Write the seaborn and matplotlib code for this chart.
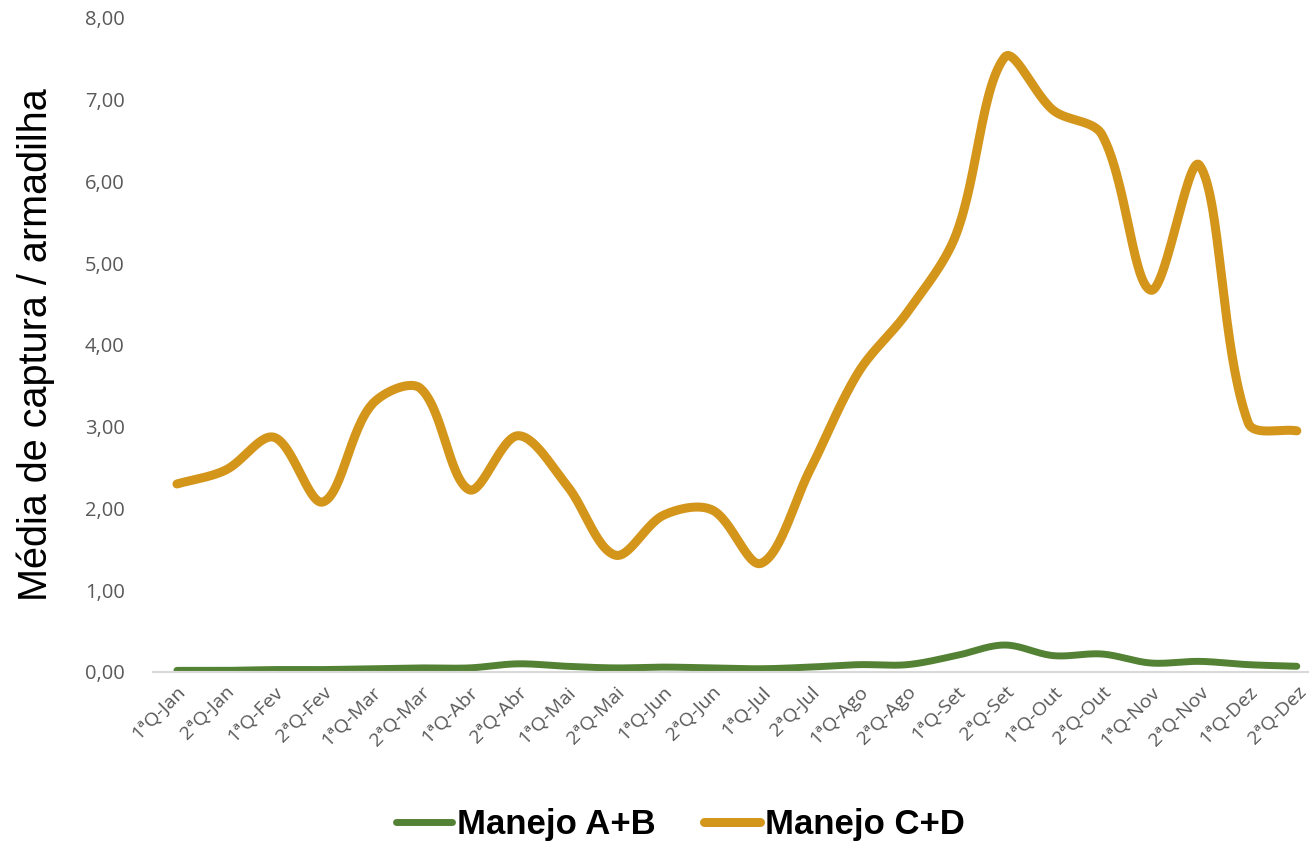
import matplotlib
matplotlib.use('Agg')
import matplotlib.pyplot as plt
import matplotlib.ticker as mticker
import numpy as np
import pandas as pd
import seaborn as sns

# Data
quinzenas = ['1ªQ-Jan', '2ªQ-Jan', '1ªQ-Fev', '2ªQ-Fev', '1ªQ-Mar', '2ªQ-Mar',
             '1ªQ-Abr', '2ªQ-Abr', '1ªQ-Mai', '2ªQ-Mai', '1ªQ-Jun', '2ªQ-Jun',
             '1ªQ-Jul', '2ªQ-Jul', '1ªQ-Ago', '2ªQ-Ago', '1ªQ-Set', '2ªQ-Set',
             '1ªQ-Out', '2ªQ-Out', '1ªQ-Nov', '2ªQ-Nov', '1ªQ-Dez', '2ªQ-Dez']
manejo_ab = [0.02, 0.02, 0.03, 0.03, 0.04, 0.05, 0.05, 0.10, 0.07, 0.05, 0.06, 0.05,
             0.04, 0.06, 0.09, 0.09, 0.20, 0.33, 0.20, 0.22, 0.11, 0.13, 0.09, 0.07]
manejo_cd = [2.30, 2.47, 2.87, 2.08, 3.27, 3.47, 2.23, 2.89, 2.29, 1.43, 1.92, 1.98,
             1.33, 2.47, 3.67, 4.40, 5.35, 7.52, 6.87, 6.57, 4.67, 6.20, 3.05, 2.95]
series_names = ['Manejo A+B', 'Manejo C+D']
colors = ['#548235', '#D4951B']

SX, SY = 48.7, 81.75  # pixels per unit, used to weigh the smoothing like Excel


def smooth(y, n=30):
    # Excel-like smoothed line: Bezier segments with chord-length weighted tangents
    y = np.asarray(y, dtype=float)
    pts = np.column_stack([np.arange(len(y), dtype=float), y])
    m = len(pts)
    cin, cout = pts.copy(), pts.copy()
    for i in range(m):
        p0 = pts[max(i - 1, 0)]
        p2 = pts[min(i + 1, m - 1)]
        tan = p2 - p0
        d1 = np.hypot((pts[i][0] - p0[0]) * SX, (pts[i][1] - p0[1]) * SY)
        d2 = np.hypot((p2[0] - pts[i][0]) * SX, (p2[1] - pts[i][1]) * SY)
        tot = d1 + d2
        if tot == 0:
            continue
        cout[i] = pts[i] + tan * d2 / tot / 3
        cin[i] = pts[i] - tan * d1 / tot / 3
    xs, ys = [], []
    for i in range(m - 1):
        p1, c1, c2, p2 = pts[i], cout[i], cin[i + 1], pts[i + 1]
        t = np.linspace(0, 1, n, endpoint=(i == m - 2))[:, None]
        seg = (1 - t) ** 3 * p1 + 3 * (1 - t) ** 2 * t * c1 + 3 * (1 - t) * t ** 2 * c2 + t ** 3 * p2
        xs.extend(seg[:, 0])
        ys.extend(seg[:, 1])
    return np.array(xs), np.array(ys)


frames = []
for name, vals in zip(series_names, [manejo_ab, manejo_cd]):
    xs, ys = smooth(vals)
    frames.append(pd.DataFrame({'x': xs, 'y': ys, 'serie': name}))
df = pd.concat(frames, ignore_index=True)

sns.set_style('white')
plt.rcParams['font.family'] = ['Open Sans', 'DejaVu Sans']

fig = plt.figure(figsize=(13.09, 8.49), dpi=100)
ax = fig.add_axes([152.6 / 1309, 1 - 672 / 849, 1 - 152.6 / 1309, (672 - 18) / 849])

for name, col, lw in zip(series_names, colors, [5.0, 6.5]):
    sns.lineplot(data=df[df['serie'] == name], x='x', y='y', color=col, linewidth=lw,
                 solid_capstyle='round', label=name, ax=ax, sort=False, estimator=None)

ax.set_xlim(-0.5, 23.25)
ax.set_ylim(0, 8)
ax.set_xticks(range(len(quinzenas)))
ax.set_xticklabels(quinzenas, rotation=45, ha='right', rotation_mode='anchor',
                   fontsize=14, color='#595959')
ax.yaxis.set_major_formatter(mticker.FuncFormatter(lambda v, p: f'{v:.2f}'.replace('.', ',')))
ax.tick_params(axis='y', labelsize=14.5, labelcolor='#595959', length=0, pad=20)
ax.tick_params(axis='x', length=0, pad=8)
for s in ['top', 'right', 'left']:
    ax.spines[s].set_visible(False)
ax.spines['bottom'].set_color('#D9D9D9')
ax.spines['bottom'].set_linewidth(1.5)
ax.set_xlabel('')
ax.set_ylabel('Média de captura / armadilha', fontsize=28.5, color='black',
              family=['Liberation Sans Narrow', 'Liberation Sans'])
ax.yaxis.set_label_coords(-98 / (1309 - 152.6), 0.5)

ax.get_legend().remove()
handles, labels = ax.get_legend_handles_labels()
leg = fig.legend(handles, labels, loc='lower center', bbox_to_anchor=(0.52, -0.027), ncol=2,
                 frameon=False, handlelength=1.6, handletextpad=0.15, columnspacing=1.4,
                 prop={'family': ['Liberation Sans Narrow', 'Liberation Sans'],
                       'weight': 'bold', 'size': 25})
for t in leg.get_texts():
    t.set_color('black')

fig.savefig('out.png', dpi=100)
